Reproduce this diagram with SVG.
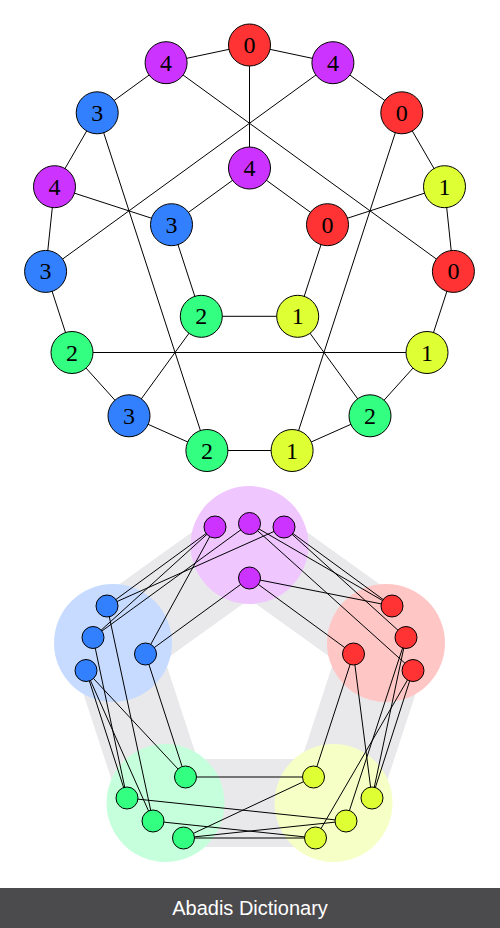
<svg xmlns="http://www.w3.org/2000/svg" width="500" height="928" viewBox="0 0 500 928">
<style>
.e{stroke:#000;stroke-width:1;fill:none}
.n{stroke:#000;stroke-width:1}
.s{stroke:#000;stroke-width:1}
.r{fill:#ff3333}.p{fill:#cc33ff}.b{fill:#3380ff}.g{fill:#33ff80}.y{fill:#ddff33}
.t{font-family:"Liberation Serif","DejaVu Serif",serif;font-size:24px;text-anchor:middle;fill:#000}
</style>
<rect width="500" height="928" fill="#fff"/>
<!-- top graph connectors -->
<g id="top-edges" class="e">
<polygon points="249.5,45 166.1,62.7 97.2,112.8 54.5,186.7 45.6,271.4 72,352.5 129,415.8 206.9,450.5 292.1,450.5 370,415.8 427,352.5 453.4,271.4 444.5,186.7 401.8,112.8 332.9,62.7"/>
<polygon points="249.5,168 171.5,224.7 201.3,316.3 297.7,316.3 327.5,224.7"/>
<line x1="249.5" y1="45" x2="249.5" y2="168"/>
<line x1="166.1" y1="62.7" x2="453.4" y2="271.4"/>
<line x1="332.9" y1="62.7" x2="45.6" y2="271.4"/>
<line x1="97.2" y1="112.8" x2="206.9" y2="450.5"/>
<line x1="401.8" y1="112.8" x2="292.1" y2="450.5"/>
<line x1="54.5" y1="186.7" x2="171.5" y2="224.7"/>
<line x1="444.5" y1="186.7" x2="327.5" y2="224.7"/>
<line x1="72" y1="352.5" x2="427" y2="352.5"/>
<line x1="129" y1="415.8" x2="201.3" y2="316.3"/>
<line x1="370" y1="415.8" x2="297.7" y2="316.3"/>
</g>
<g id="tA"><circle class="n r" cx="249.5" cy="45" r="21"/><text class="t" x="249.5" y="53">0</text></g>
<g id="tB"><circle class="n p" cx="166.1" cy="62.7" r="21"/><text class="t" x="166.1" y="70.7">4</text></g>
<g id="tC"><circle class="n p" cx="332.9" cy="62.7" r="21"/><text class="t" x="332.9" y="70.7">4</text></g>
<g id="tD"><circle class="n b" cx="97.2" cy="112.8" r="21"/><text class="t" x="97.2" y="120.8">3</text></g>
<g id="tE"><circle class="n r" cx="401.8" cy="112.8" r="21"/><text class="t" x="401.8" y="120.8">0</text></g>
<g id="tF"><circle class="n p" cx="54.5" cy="186.7" r="21"/><text class="t" x="54.5" y="194.7">4</text></g>
<g id="tG"><circle class="n y" cx="444.5" cy="186.7" r="21"/><text class="t" x="444.5" y="194.7">1</text></g>
<g id="tH"><circle class="n b" cx="45.6" cy="271.4" r="21"/><text class="t" x="45.6" y="279.4">3</text></g>
<g id="tI"><circle class="n r" cx="453.4" cy="271.4" r="21"/><text class="t" x="453.4" y="279.4">0</text></g>
<g id="tJ"><circle class="n g" cx="72" cy="352.5" r="21"/><text class="t" x="72" y="360.5">2</text></g>
<g id="tK"><circle class="n y" cx="427" cy="352.5" r="21"/><text class="t" x="427" y="360.5">1</text></g>
<g id="tL"><circle class="n b" cx="129" cy="415.8" r="21"/><text class="t" x="129" y="423.8">3</text></g>
<g id="tM"><circle class="n g" cx="370" cy="415.8" r="21"/><text class="t" x="370" y="423.8">2</text></g>
<g id="tN"><circle class="n g" cx="206.9" cy="450.5" r="21"/><text class="t" x="206.9" y="458.5">2</text></g>
<g id="tO"><circle class="n y" cx="292.1" cy="450.5" r="21"/><text class="t" x="292.1" y="458.5">1</text></g>
<g id="tP"><circle class="n p" cx="249.5" cy="168" r="21"/><text class="t" x="249.5" y="176">4</text></g>
<g id="tQ"><circle class="n b" cx="171.5" cy="224.7" r="21"/><text class="t" x="171.5" y="232.7">3</text></g>
<g id="tR"><circle class="n r" cx="327.5" cy="224.7" r="21"/><text class="t" x="327.5" y="232.7">0</text></g>
<g id="tS"><circle class="n g" cx="201.3" cy="316.3" r="21"/><text class="t" x="201.3" y="324.3">2</text></g>
<g id="tT"><circle class="n y" cx="297.7" cy="316.3" r="21"/><text class="t" x="297.7" y="324.3">1</text></g>

<!-- bottom clustered graph -->
<g id="band">
<polygon points="249.5,545 386,643 333.5,803 165.5,803 113,643" fill="none" stroke="#e9e9eb" stroke-width="88" stroke-linejoin="miter"/>
</g>
<g id="clusters">
<circle cx="249.5" cy="545" r="59" fill="#f0c6ff"/>
<circle cx="113" cy="643" r="59" fill="#c6dbff"/>
<circle cx="386" cy="643" r="59" fill="#ffc6c6"/>
<circle cx="165.5" cy="803" r="59" fill="#c6ffdc"/>
<circle cx="333.5" cy="803" r="59" fill="#f5ffc6"/>
</g>
<g id="bottom-edges" class="e">
<line x1="249.5" y1="523.5" x2="392" y2="606"/>
<line x1="284" y1="527" x2="392" y2="606"/>
<line x1="249.5" y1="578" x2="392" y2="606"/>
<line x1="284" y1="527" x2="406" y2="637.5"/>
<line x1="249.5" y1="523.5" x2="413" y2="670.5"/>
<line x1="249.5" y1="578" x2="353.5" y2="654"/>
<line x1="284" y1="527" x2="107" y2="606"/>
<line x1="215" y1="527" x2="107" y2="606"/>
<line x1="215" y1="527" x2="93" y2="637.5"/>
<line x1="249.5" y1="523.5" x2="93" y2="637.5"/>
<line x1="249.5" y1="578" x2="145.5" y2="654"/>
<line x1="215" y1="527" x2="145.5" y2="654"/>
<line x1="93" y1="637.5" x2="127" y2="798"/>
<line x1="86" y1="670.5" x2="127" y2="798"/>
<line x1="86" y1="670.5" x2="153" y2="821"/>
<line x1="107" y1="606" x2="153" y2="821"/>
<line x1="145.5" y1="654" x2="185.5" y2="777"/>
<line x1="86" y1="670.5" x2="185.5" y2="777"/>
<line x1="153" y1="821" x2="315.5" y2="838"/>
<line x1="183.5" y1="838" x2="315.5" y2="838"/>
<line x1="183.5" y1="838" x2="346" y2="821"/>
<line x1="185.5" y1="777" x2="313.5" y2="777"/>
<line x1="127" y1="798" x2="346" y2="821"/>
<line x1="183.5" y1="838" x2="313.5" y2="777"/>
<line x1="346" y1="821" x2="406" y2="637.5"/>
<line x1="372" y1="798" x2="406" y2="637.5"/>
<line x1="372" y1="798" x2="413" y2="670.5"/>
<line x1="313.5" y1="777" x2="353.5" y2="654"/>
<line x1="315.5" y1="838" x2="413" y2="670.5"/>
<line x1="372" y1="798" x2="353.5" y2="654"/>
</g>
<g id="p1"><circle class="s p" cx="215" cy="527" r="11"/></g>
<g id="p2"><circle class="s p" cx="249.5" cy="523.5" r="11"/></g>
<g id="p3"><circle class="s p" cx="284" cy="527" r="11"/></g>
<g id="p4"><circle class="s p" cx="249.5" cy="578" r="11"/></g>
<g id="b1"><circle class="s b" cx="107" cy="606" r="11"/></g>
<g id="b2"><circle class="s b" cx="93" cy="637.5" r="11"/></g>
<g id="b3"><circle class="s b" cx="86" cy="670.5" r="11"/></g>
<g id="b4"><circle class="s b" cx="145.5" cy="654" r="11"/></g>
<g id="r1"><circle class="s r" cx="392" cy="606" r="11"/></g>
<g id="r2"><circle class="s r" cx="406" cy="637.5" r="11"/></g>
<g id="r3"><circle class="s r" cx="413" cy="670.5" r="11"/></g>
<g id="r4"><circle class="s r" cx="353.5" cy="654" r="11"/></g>
<g id="g1"><circle class="s g" cx="185.5" cy="777" r="11"/></g>
<g id="g2"><circle class="s g" cx="127" cy="798" r="11"/></g>
<g id="g3"><circle class="s g" cx="153" cy="821" r="11"/></g>
<g id="g4"><circle class="s g" cx="183.5" cy="838" r="11"/></g>
<g id="y1"><circle class="s y" cx="313.5" cy="777" r="11"/></g>
<g id="y2"><circle class="s y" cx="372" cy="798" r="11"/></g>
<g id="y3"><circle class="s y" cx="346" cy="821" r="11"/></g>
<g id="y4"><circle class="s y" cx="315.5" cy="838" r="11"/></g>

<g id="footer">
<rect x="0" y="888" width="500" height="40" fill="#4b4a4d"/>
<text x="250" y="915" font-family="Liberation Sans, Arial, sans-serif" font-size="20" fill="#fff" text-anchor="middle">Abadis Dictionary</text>
</g>
</svg>
